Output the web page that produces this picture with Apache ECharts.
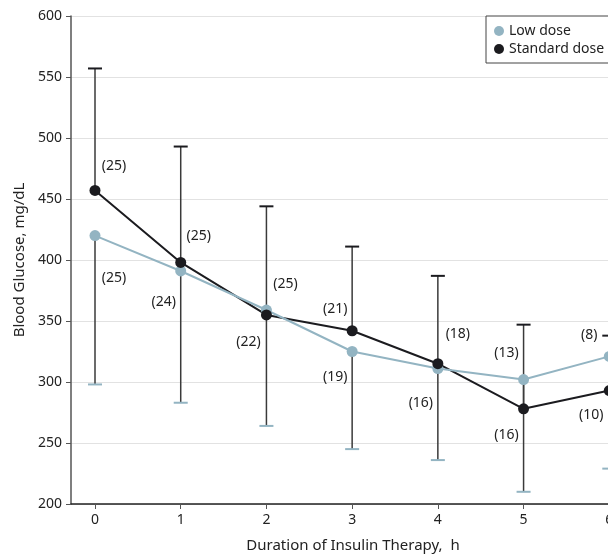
<!DOCTYPE html>
<html>
<head>
<meta charset="utf-8">
<script src="https://cdn.jsdelivr.net/npm/echarts@6/dist/echarts.min.js"></script>
<style>html,body{margin:0;padding:0;background:#fff;overflow:hidden;}#c{width:640px;height:560px;}</style>
</head>
<body>
<div id="c"></div>
<script>
// ---- data ----
const hours = [0, 1, 2, 3, 4, 5, 6];
const xTickLabels = ['0', '1', '2', '3', '4', '5', '6'];
const yTickValues = [200, 250, 300, 350, 400, 450, 500, 550, 600];
const lowDose = [420, 391, 359, 325, 311, 302, 321];
const standardDose = [457, 398, 355, 342, 315, 278, 293];
const standardUpper = [557, 493, 444, 411, 387, 347, 338];
const lowLower = [298, 283, 264, 245, 236, 210, 229];
const lowN = [25, 24, 22, 19, 16, 16, 10];
const standardN = [25, 25, 25, 21, 18, 13, 8];

// ---- styles ----
const FONT = 'Noto Sans';
const LOW_COLOR = '#93b4c2';
const STD_COLOR = '#1b1b1f';
const stdLabelOffsets = [[19, -24], [18, -26], [19, -31], [-17, -22], [20, -30], [-17, -56], [-20, -56]];
const lowLabelOffsets = [[19, 42], [-17, 31], [-18, 32], [-17, 26], [-17, 34], [-17, 55], [-18, 59]];

const chart = echarts.init(document.getElementById('c'));

function errBar(values, bounds, capColor) {
  return function (params, api) {
    const i = params.dataIndex;
    const p0 = api.coord([hours[i], values[i]]);
    const p1 = api.coord([hours[i], bounds[i]]);
    return {
      type: 'group',
      children: [
        { type: 'line', shape: { x1: p0[0], y1: p0[1], x2: p1[0], y2: p1[1] },
          style: { stroke: '#3a3a3a', lineWidth: 1.5 } },
        { type: 'line', shape: { x1: p1[0] - 7, y1: p1[1], x2: p1[0] + 7, y2: p1[1] },
          style: { stroke: capColor, lineWidth: 2 } }
      ]
    };
  };
}

function labelled(values, counts, offsets) {
  return values.map((v, i) => ({
    value: [hours[i], v],
    label: { show: true, position: 'inside', offset: offsets[i], formatter: '(' + counts[i] + ')' }
  }));
}

const option = {
  animation: false,
  textStyle: { fontFamily: FONT },
  grid: { left: 71, top: 16, bottom: 56, right: 5, containLabel: false },
  xAxis: {
    type: 'value', min: -0.28, max: 6.3,
    name: 'Duration of Insulin Therapy,  h', nameLocation: 'middle', nameGap: 34,
    nameTextStyle: { fontFamily: FONT, fontSize: 15, color: '#222' },
    axisLine: { show: true, onZero: false, lineStyle: { color: '#222', width: 1.5 } },
    axisTick: { show: true, length: 5, customValues: hours, lineStyle: { color: '#555' } },
    axisLabel: { customValues: hours, formatter: v => xTickLabels[hours.indexOf(v)], margin: 9,
      fontFamily: FONT, fontSize: 14, color: '#222' },
    splitLine: { show: false }
  },
  yAxis: {
    type: 'value', min: 200, max: 600, interval: 50,
    name: 'Blood Glucose, mg/dL', nameLocation: 'middle', nameGap: 44,
    nameTextStyle: { fontFamily: FONT, fontSize: 15, color: '#222' },
    axisLine: { show: true, onZero: false, lineStyle: { color: '#555', width: 1.5 } },
    axisTick: { show: true, length: 5, lineStyle: { color: '#555' } },
    axisLabel: { margin: 9, fontFamily: FONT, fontSize: 14, color: '#222',
      formatter: v => yTickValues.includes(v) ? String(v) : '' },
    splitLine: { show: true, lineStyle: { color: '#e2e2e2', width: 1.2 } }
  },
  legend: {
    data: ['Low dose', 'Standard dose'],
    orient: 'vertical', left: 486, top: 16,
    padding: [8, 8, 7, 8], itemGap: 4, itemWidth: 10, itemHeight: 10,
    icon: 'circle', borderColor: '#444', borderWidth: 1, backgroundColor: '#fff',
    textStyle: { fontFamily: FONT, fontSize: 14, color: '#222' }
  },
  series: [
    { name: 'stdErr', type: 'custom', renderItem: errBar(standardDose, standardUpper, STD_COLOR),
      data: hours.map((h, i) => [h, standardDose[i], standardUpper[i]]), z: 1, silent: true },
    { name: 'lowErr', type: 'custom', renderItem: errBar(lowDose, lowLower, LOW_COLOR),
      data: hours.map((h, i) => [h, lowDose[i], lowLower[i]]), z: 1, silent: true },
    { name: 'stdLine', type: 'line', data: hours.map((h, i) => [h, standardDose[i]]), showSymbol: false,
      lineStyle: { color: STD_COLOR, width: 2 }, z: 2, silent: true },
    { name: 'lowLine', type: 'line', data: hours.map((h, i) => [h, lowDose[i]]), showSymbol: false,
      lineStyle: { color: LOW_COLOR, width: 2 }, z: 3, silent: true },
    { name: 'Low dose', type: 'scatter', data: labelled(lowDose, lowN, lowLabelOffsets), symbolSize: 11,
      itemStyle: { color: LOW_COLOR, opacity: 1 }, z: 4,
      label: { fontFamily: FONT, fontSize: 14, color: '#222' } },
    { name: 'Standard dose', type: 'scatter', data: labelled(standardDose, standardN, stdLabelOffsets), symbolSize: 11,
      itemStyle: { color: STD_COLOR, opacity: 1 }, z: 5,
      label: { fontFamily: FONT, fontSize: 14, color: '#222' } }
  ]
};
chart.setOption(option);
</script>
</body>
</html>
